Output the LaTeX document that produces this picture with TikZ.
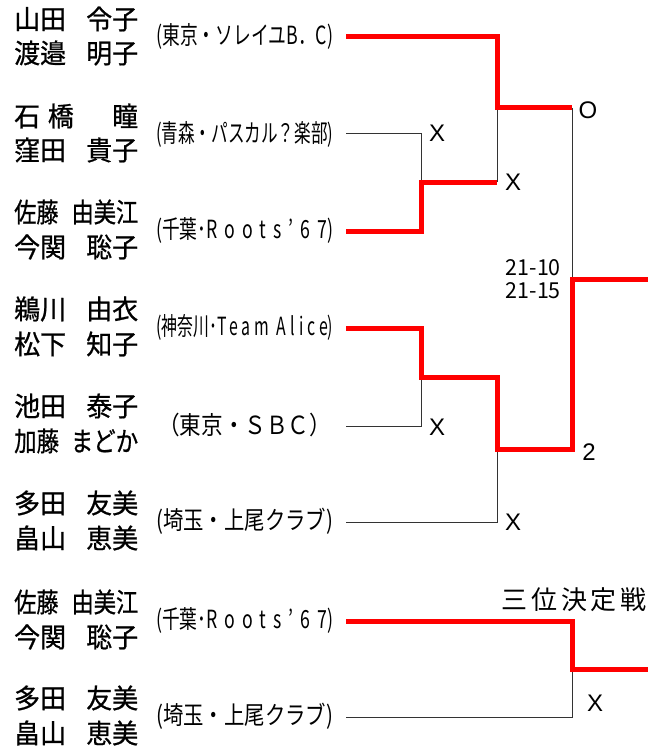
\documentclass[tikz,border=0pt]{standalone}
\usepackage{fontspec}
\usepackage{graphicx}
\setmainfont{Noto Sans CJK JP}
\newfontfamily\nmf{Noto Sans CJK JP}[FakeBold=0.8]
\newfontfamily\latf{Liberation Sans}
\newcommand{\tmx}[2][177pt]{\resizebox{#1}{\height}{#2}}
\newcommand{\nmx}[3][21pt]{\resizebox{124pt}{\height}{#2\hspace{#1}#3}}
\tikzset{
  nm/.style={anchor=west, inner sep=0pt, font=\nmf\fontsize{27}{27}\selectfont},
  tmn/.style={anchor=west, inner sep=0pt, font=\fontsize{25}{25}\selectfont},
  mk/.style={inner sep=0pt, font=\latf\fontsize{24}{24}\selectfont},
  win/.style={draw=red, line width=5pt, line join=miter},
  lose/.style={draw=black!80, line width=1pt},
}
\begin{document}
\begin{tikzpicture}[x=1pt,y=-1pt]
\useasboundingbox (0,0) rectangle (664,754);
% names
\node[nm] (n1a) at (14,19) {\nmx{山田}{令子}};
\node[nm] (n1b) at (14,53) {\nmx{渡邉}{明子}};
\node[nm] (n2a) at (14,116) {\resizebox{124pt}{\height}{\makebox[129pt][l]{石\hspace{8pt}橋\hfill 瞳}}};
\node[nm] (n2b) at (14,150) {\nmx{窪田}{貴子}};
\node[nm] (n3a) at (14,212) {\nmx[16pt]{佐藤}{由美江}};
\node[nm] (n3b) at (14,247) {\nmx{今関}{聡子}};
\node[nm] (n4a) at (14,309) {\nmx{鵜川}{由衣}};
\node[nm] (n4b) at (14,344) {\nmx{松下}{知子}};
\node[nm] (n5a) at (14,406) {\nmx{池田}{泰子}};
\node[nm] (n5b) at (14,441) {\nmx[14pt]{加藤}{まどか}};
\node[nm] (n6a) at (14,503) {\nmx{多田}{友美}};
\node[nm] (n6b) at (14,538) {\nmx{畠山}{恵美}};
\node[nm] (n7a) at (14,602) {\nmx[16pt]{佐藤}{由美江}};
\node[nm] (n7b) at (14,637) {\nmx{今関}{聡子}};
\node[nm] (n8a) at (14,698) {\nmx{多田}{友美}};
\node[nm] (n8b) at (14,733) {\nmx{畠山}{恵美}};
% teams
\node[tmn] (t1) at (156,36) {\tmx{(東京・ソレイユB．C)}};
\node[tmn] (t2) at (156,134) {\tmx{(青森・パスカル？楽部)}};
\node[tmn] (t3) at (156,230) {\tmx{(千葉･{\addfontfeature{LetterSpace=40}Roots'67})}};
\node[tmn] (t4) at (156,327) {\tmx{(神奈川･{\addfontfeature{LetterSpace=25}Team Alice})}};
\node[tmn] (t5) at (158,425) {\tmx[173pt]{（東京・ＳＢＣ）}};
\node[tmn] (t6) at (156,521) {\tmx{(埼玉・上尾クラブ)}};
\node[tmn] (t7) at (156,620) {\tmx{(千葉･{\addfontfeature{LetterSpace=40}Roots'67})}};
\node[tmn] (t8) at (156,716) {\tmx{(埼玉・上尾クラブ)}};
% coordinates
\coordinate (s1) at (346,37);
\coordinate (s2) at (346,134);
\coordinate (s3) at (346,231);
\coordinate (s4) at (346,328);
\coordinate (s5) at (346,426);
\coordinate (s6) at (346,522);
\coordinate (s7) at (346,621);
\coordinate (s8) at (346,717);
\coordinate (q1) at (421,182);
\coordinate (e1) at (497,182);
\coordinate (h1) at (497,108);
\coordinate (g1) at (572,108);
\coordinate (q2) at (421,377);
\coordinate (h2) at (497,449);
\coordinate (f) at (572,279);
\coordinate (fe) at (648,279);
\coordinate (tp) at (572,669);
\coordinate (tpe) at (648,669);
% losing lines
\draw[lose] (s2) -| (q1);
\draw[lose] (h1) -- (e1);
\draw[lose] (g1) -- (f);
\draw[lose] (s5) -| (q2);
\draw[lose] (s6) -| (h2);
\draw[lose] (s8) -| (tp);
% winning lines
\draw[win] (s1) -| (h1) -- (g1);
\draw[win] (s3) -| (q1) -- (e1);
\draw[win] (s4) -| (q2) -| (h2) -| (f) -- (fe);
\draw[win] (s7) -| (tp) -- (tpe);
% marks
\node[mk] (x2) at (437,133) {X};
\node[mk] (x3) at (513,182) {X};
\node[mk] (o1) at (588,110) {O};
\node[mk] (x5) at (437,427) {X};
\node[mk] (x6) at (513,522) {X};
\node[mk] (w2) at (589,452) {2};
\node[mk] (x8) at (595,703) {X};
% score
\node[anchor=east, inner sep=0pt, align=right, font=\fontsize{22}{23}\selectfont] (sc) at (561,279) {\resizebox{55pt}{\height}{21-10}\\\resizebox{55pt}{\height}{21-15}};
% third place title
\node[inner sep=0pt, font=\fontsize{26}{26}\selectfont] (tt) at (574,600) {{\addfontfeature{LetterSpace=14}三位決定戦}};
\end{tikzpicture}
\end{document}
